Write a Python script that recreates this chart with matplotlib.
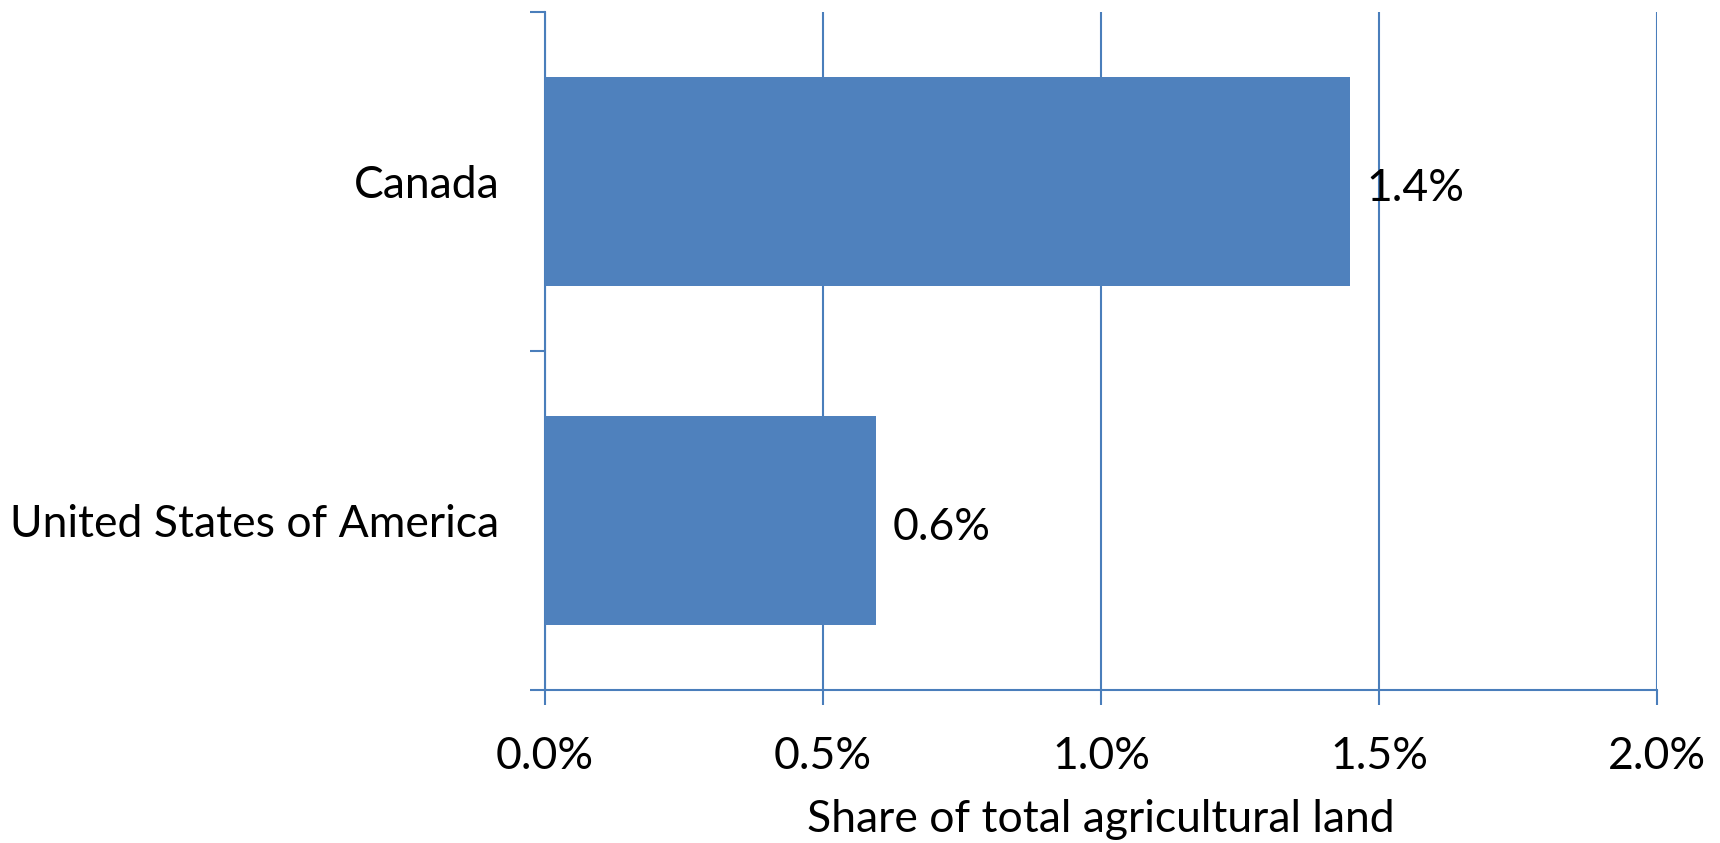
import numpy as np
import matplotlib.pyplot as plt
from matplotlib.ticker import FuncFormatter

# values (share of total agricultural land, %)
countries = ['United States of America', 'Canada']
shares = [0.595, 1.448]
share_labels = ['0.6%', '1.4%']
x_ticks = [0.0, 0.5, 1.0, 1.5, 2.0]

bar_color = '#4F81BD'
line_color = '#4A7EBB'

plt.rcParams['font.family'] = ['Lato', 'DejaVu Sans']

fig = plt.figure(figsize=(17.2, 8.43), dpi=100)
ax = fig.add_axes([0.3169, 0.1815, 0.6465, 0.8043])

pos = np.arange(len(countries))
bars = ax.barh(pos, shares, height=0.617, color=bar_color, zorder=3)

for b, lab in zip(bars, share_labels):
    ax.annotate(lab, (b.get_width(), b.get_y() + b.get_height() / 2),
                xytext=(12, -5), textcoords='offset points',
                ha='left', va='center', fontsize=32, color='black', zorder=4)

ax.set_xlim(0, 2.0)
ax.set_ylim(-0.5, len(countries) - 0.5)

ax.set_xticks(x_ticks)
ax.xaxis.set_major_formatter(FuncFormatter(lambda v, p: f'{v:.1f}%'))
ax.grid(axis='x', color=line_color, linewidth=1.5, zorder=0)

# category boundaries as major ticks, names on minor ticks
ax.set_yticks(np.arange(-0.5, len(countries), 1.0))
ax.set_yticklabels([])
ax.set_yticks(pos, minor=True)
ax.set_yticklabels(countries, minor=True)

ax.tick_params(axis='y', which='major', direction='out', length=10.8,
               width=1.5, color=line_color)
ax.tick_params(axis='y', which='minor', length=0, pad=33, labelsize=32)
ax.tick_params(axis='x', direction='out', length=10.8, width=1.5,
               color=line_color, pad=22, labelsize=32)

for s in ['top', 'right']:
    ax.spines[s].set_visible(False)
for s in ['left', 'bottom']:
    ax.spines[s].set_color(line_color)
    ax.spines[s].set_linewidth(1.5)

ax.set_xlabel('Share of total agricultural land', fontsize=32, labelpad=16)

fig.savefig('out.png', dpi=100)
